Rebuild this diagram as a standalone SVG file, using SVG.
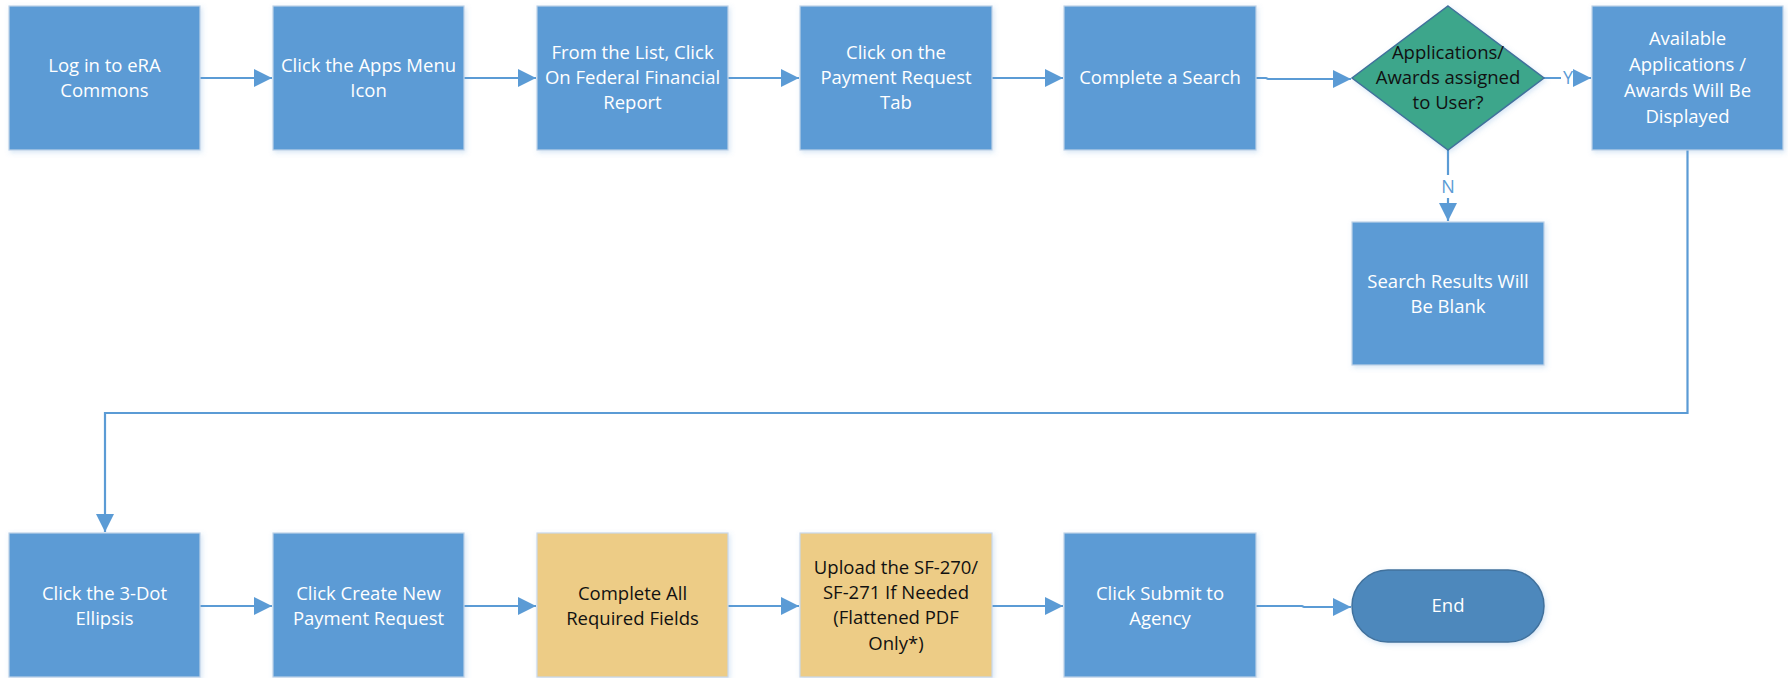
<svg xmlns="http://www.w3.org/2000/svg" width="1788" height="678" viewBox="0 0 1788 678">
<style>
.box{fill:#5B9BD5;stroke:#BFD2E8;stroke-width:1.2;filter:url(#sh)}
.ybox{fill:#EDCC86;stroke:#C9D8EA;stroke-width:1.2;filter:url(#sh)}
.dia{fill:#3DA68B;stroke:#41719C;stroke-width:1.5;filter:url(#sh)}
.term{fill:#4E88BC;stroke:#41719C;stroke-width:1.5;filter:url(#sh)}
.t{font-family:"Open Sans","Noto Sans","Liberation Sans",sans-serif;font-size:18.5px;text-anchor:middle;fill:#FFFFFF}
.tb{fill:#111111}
.lbl{font-family:"Open Sans","Noto Sans","Liberation Sans",sans-serif;font-size:18px;text-anchor:middle;fill:#5B9BD5}
.c{fill:none;stroke:#5B9BD5;stroke-width:2.2}
</style>
<defs>
<filter id="sh" x="-10%" y="-10%" width="125%" height="125%">
<feDropShadow dx="1.5" dy="2" stdDeviation="2.5" flood-color="#5B9BD5" flood-opacity="0.25"/>
</filter>
<marker id="ah" markerUnits="userSpaceOnUse" markerWidth="18" markerHeight="18" viewBox="0 0 18 18" refX="18" refY="9" orient="auto">
<path d="M0,0 L18,9 L0,18 Z" fill="#5B9BD5"/>
</marker>
<clipPath id="c3"><rect x="537" y="6" width="191" height="144"/></clipPath>
</defs>

<g id="connectors">
<path class="c" d="M200,78 H272" marker-end="url(#ah)"/>
<path class="c" d="M464,78 H536" marker-end="url(#ah)"/>
<path class="c" d="M728,78 H799" marker-end="url(#ah)"/>
<path class="c" d="M992,78 H1063" marker-end="url(#ah)"/>
<path class="c" d="M1256,78 H1266 L1268,79 H1351" marker-end="url(#ah)"/>
<path class="c" d="M1544,78 H1591" marker-end="url(#ah)"/>
<path class="c" d="M1448,150 V221" marker-end="url(#ah)"/>
<path class="c" d="M1687.5,150 V413 H105 V532" marker-end="url(#ah)"/>
<path class="c" d="M200,606 H272" marker-end="url(#ah)"/>
<path class="c" d="M464,606 H536" marker-end="url(#ah)"/>
<path class="c" d="M728,606 H799" marker-end="url(#ah)"/>
<path class="c" d="M992,606 H1063" marker-end="url(#ah)"/>
<path class="c" d="M1256,606 H1302 L1304,607 H1351" marker-end="url(#ah)"/>
<rect x="1561" y="68" width="12" height="20" fill="#FFFFFF"/>
<text class="lbl" x="1568" y="84">Y</text>
<rect x="1440" y="175" width="16" height="23" fill="#FFFFFF"/>
<text class="lbl" x="1448" y="193">N</text>
</g>

<g id="n1"><rect class="box" x="9" y="6" width="191" height="144"/>
<text class="t" x="104.5" y="72">Log in to eRA</text><text class="t" x="104.5" y="97">Commons</text></g>
<g id="n2"><rect class="box" x="273" y="6" width="191" height="144"/>
<text class="t" x="368.5" y="72">Click the Apps Menu</text><text class="t" x="368.5" y="97">Icon</text></g>
<g id="n3"><rect class="box" x="537" y="6" width="191" height="144"/>
<g clip-path="url(#c3)"><text class="t" x="632.5" y="59">From the List, Click</text><text class="t" x="632.5" y="84">On Federal Financial</text><text class="t" x="632.5" y="109">Report</text></g></g>
<g id="n4"><rect class="box" x="800" y="6" width="192" height="144"/>
<text class="t" x="896" y="59">Click on the</text><text class="t" x="896" y="84">Payment Request</text><text class="t" x="896" y="109">Tab</text></g>
<g id="n5"><rect class="box" x="1064" y="6" width="192" height="144"/>
<text class="t" x="1160" y="84">Complete a Search</text></g>
<g id="d1"><path class="dia" d="M1448,6 L1544,78 L1448,150 L1352,78 Z"/>
<text class="t tb" x="1448" y="59">Applications/</text><text class="t tb" x="1448" y="84">Awards assigned</text><text class="t tb" x="1448" y="109">to User?</text></g>
<g id="n7"><rect class="box" x="1592" y="6" width="191" height="144"/>
<text class="t" x="1687.5" y="45">Available</text><text class="t" x="1687.5" y="71">Applications /</text><text class="t" x="1687.5" y="97">Awards Will Be</text><text class="t" x="1687.5" y="123">Displayed</text></g>
<g id="n6"><rect class="box" x="1352" y="222" width="192" height="143"/>
<text class="t" x="1448" y="288">Search Results Will</text><text class="t" x="1448" y="313">Be Blank</text></g>

<g id="n8"><rect class="box" x="9" y="533" width="191" height="144"/>
<text class="t" x="104.5" y="600">Click the 3-Dot</text><text class="t" x="104.5" y="625">Ellipsis</text></g>
<g id="n9"><rect class="box" x="273" y="533" width="191" height="144"/>
<text class="t" x="368.5" y="600">Click Create New</text><text class="t" x="368.5" y="625">Payment Request</text></g>
<g id="n10"><rect class="ybox" x="537" y="533" width="191" height="144"/>
<text class="t tb" x="632.5" y="600">Complete All</text><text class="t tb" x="632.5" y="625">Required Fields</text></g>
<g id="n11"><rect class="ybox" x="800" y="533" width="192" height="144"/>
<text class="t tb" x="896" y="574">Upload the SF-270/</text><text class="t tb" x="896" y="599">SF-271 If Needed</text><text class="t tb" x="896" y="624">(Flattened PDF</text><text class="t tb" x="896" y="650">Only*)</text></g>
<g id="n12"><rect class="box" x="1064" y="533" width="192" height="144"/>
<text class="t" x="1160" y="600">Click Submit to</text><text class="t" x="1160" y="625">Agency</text></g>
<g id="end"><rect class="term" x="1352" y="570" width="192" height="72" rx="36" ry="36"/>
<text class="t" x="1448" y="612">End</text></g>
</svg>
